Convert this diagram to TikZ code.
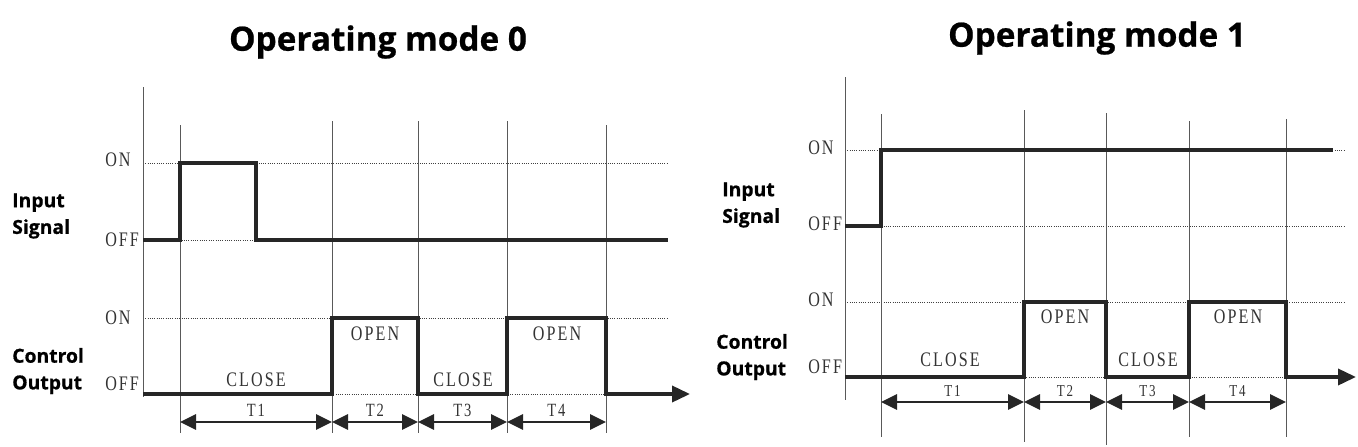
\documentclass[tikz,border=0pt]{standalone}
\usepackage{fontspec}
\setmainfont{Open Sans}[BoldFeatures={FakeBold=0.7}]
\newfontfamily\sigfont[FakeStretch=0.78,LetterSpace=10]{Liberation Serif}
\usetikzlibrary{arrows.meta}
\begin{document}
\begin{tikzpicture}[x=0.75pt,y=-0.75pt,line join=miter,>={Triangle[length=12pt,width=11.5pt]}]
		\tikzset{title style/.style={font=\bfseries\fontsize{25}{29}\selectfont},
			name style/.style={font=\bfseries\fontsize{14.5}{20}\selectfont,align=left,anchor=west,inner sep=0pt},
			level style/.style={font=\sigfont\fontsize{15.5}{17}\selectfont,text=black!80,anchor=west,inner sep=0pt},
			state style/.style={font=\sigfont\fontsize{15.5}{17}\selectfont,text=black!80},
			wave/.style={line width=2.7pt,draw=black!85},
			grid line/.style={line width=0.7pt,draw=black!65},
			level line/.style={densely dotted,line width=0.7pt,draw=black!75},
			span/.style={<->,line width=1.5pt,draw=black!85}}
		\useasboundingbox (0,0) rectangle (1358,446);
		% Operating mode 0
		\node[title style] (title0) at (378,42) {Operating mode 0};
		\node[name style] (in0) at (12,216) {Input\\Signal};
		\node[name style] (out0) at (12,371) {Control\\Output};
		\node[level style] (on0a) at (105,160) {ON};
		\node[level style] (off0a) at (105,240) {OFF};
		\node[level style] (on0b) at (105,318) {ON};
		\node[level style] (off0b) at (105,384) {OFF};
		\foreach \y in {163,240,318,394}
		\draw[level line] (143,\y)--(668,\y);
		\foreach \x/\t in {180/125,332/121,418/121,507/121,606/125}
		\draw[grid line] (\x,\t)--(\x,433);
		\draw[grid line] (143,87)--(143,397);
		\draw[wave] (143,240)--(180,240)--(180,163)--(256,163)--(256,240)--(668,240);
		\draw[wave,->,>={Triangle[length=13.5pt,width=12pt]}] (143,394)--(332,394)--(332,318)--(418,318)--(418,394)--(507,394)--(507,318)--(606,318)--(606,394)--(690,394);
		\node[state style] (close0a) at (256,380) {CLOSE};
		\node[state style] (open0a) at (375,334) {OPEN};
		\node[state style] (close0b) at (463,380) {CLOSE};
		\node[state style] (open0b) at (557,334) {OPEN};
		\foreach \x [count=\i] in {180,332,418,507,606}
		\coordinate (L\i) at (\x,422);
		\foreach \i/\j in {1/2,2/3,3/4,4/5}
		\draw[span] (L\i)--(L\j) node[midway,above=0pt,state style,font=\sigfont\fontsize{14}{15}\selectfont] (tl\i) {T\i};
		% Operating mode 1
		\node[title style] (title1) at (1097,38) {Operating mode 1};
		\node[name style] (in1) at (722,205) {Input\\Signal};
		\node[name style] (out1) at (716,357) {Control\\Output};
		\node[level style] (on1a) at (808,148) {ON};
		\node[level style] (off1a) at (808,224) {OFF};
		\node[level style] (on1b) at (808,300) {ON};
		\node[level style] (off1b) at (808,367) {OFF};
		\foreach \y in {150,226,302,377}
		\draw[level line] (845,\y)--(1345,\y);
		\foreach \x/\t/\b in {881/114/437,1024/110/442,1106/113/445,1189/121/437,1286/119/437}
		\draw[grid line] (\x,\t)--(\x,\b);
		\draw[grid line] (845,77)--(845,400);
		\draw[wave] (845,226)--(881,226)--(881,150)--(1333,150);
		\draw[wave,->,>={Triangle[length=13.5pt,width=12pt]}] (845,377)--(1024,377)--(1024,302)--(1106,302)--(1106,377)--(1189,377)--(1189,302)--(1286,302)--(1286,377)--(1356,377);
		\node[state style] (close1a) at (950,360) {CLOSE};
		\node[state style] (open1a) at (1065,317) {OPEN};
		\node[state style] (close1b) at (1148,360) {CLOSE};
		\node[state style] (open1b) at (1238,317) {OPEN};
		\foreach \x [count=\i] in {881,1024,1106,1189,1286}
		\coordinate (R\i) at (\x,402);
		\foreach \i/\j in {1/2,2/3,3/4,4/5}
		\draw[span] (R\i)--(R\j) node[midway,above=0pt,state style,font=\sigfont\fontsize{12.5}{14}\selectfont] (tr\i) {T\i};
\end{tikzpicture}
\end{document}
